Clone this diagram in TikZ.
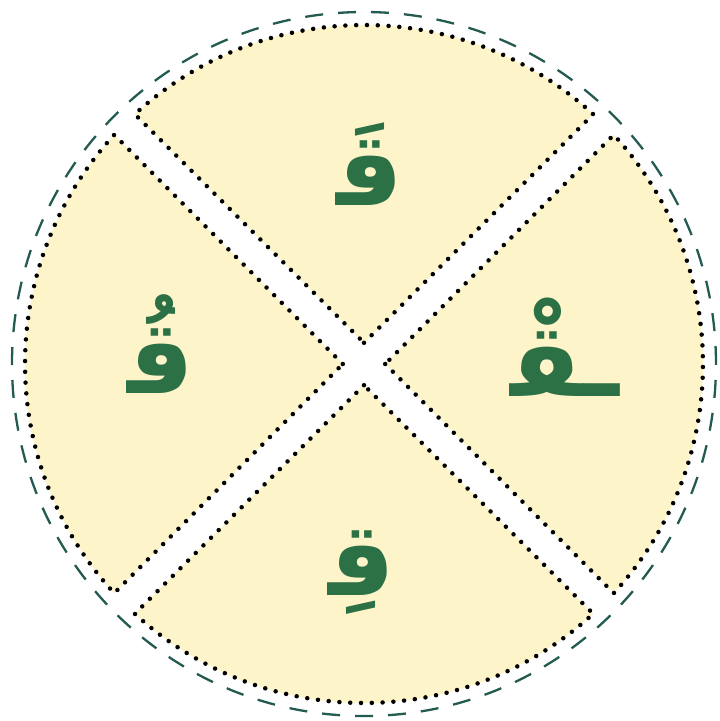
\documentclass[tikz,border=0pt]{standalone}
\usepackage{fontspec}
\newfontfamily\arabicfont[Script=Arabic]{DejaVu Sans}
\TeXXeTstate=1

\definecolor{sectfill}{HTML}{FEF4C9}
\definecolor{letter}{HTML}{2C7045}
\definecolor{rim}{HTML}{245B50}

\def\rin{339}
\def\rout{352}
\def\tip{21.2}

\begin{document}
\begin{tikzpicture}[x=1pt, y=1pt,
  sector/.style={fill=sectfill, draw=black, line width=4.5pt, line cap=round, dash pattern=on 0pt off 10.8pt},
  harf/.style={text=letter, font=\arabicfont\bfseries\fontsize{102}{110}\selectfont, inner sep=0pt}]

\useasboundingbox (-364,-357) rectangle (356,364);

% ---- outer dashed rim ----
\draw[rim, line width=2.3pt, dash pattern=on 18pt off 15pt] (0,0) circle[radius=\rout];

% ---- four sectors, gaps along the diagonals ----
\filldraw[sector] (90:\tip) -- (47.46:\rin) arc[start angle=47.46, end angle=132.54, radius=\rin] -- cycle;
\filldraw[sector] (0:\tip) -- (-42.54:\rin) arc[start angle=-42.54, end angle=42.54, radius=\rin] -- cycle;
\filldraw[sector] (270:\tip) -- (227.46:\rin) arc[start angle=227.46, end angle=312.54, radius=\rin] -- cycle;
\filldraw[sector] (180:\tip) -- (137.46:\rin) arc[start angle=137.46, end angle=222.54, radius=\rin] -- cycle;

% ---- letters ----
\node[harf] (fatha) at (6,200) {\beginR قَ^^^^200d\endR};
\node[harf] (sukun) at (201,17) {\beginR ـقْ^^^^200d\endR};
\node[harf] (kasra) at (-2,-209) {\beginR قِ^^^^200d\endR};
\node[harf] (damma) at (-203,20) {\beginR قُ^^^^200d\endR};

\end{tikzpicture}
\end{document}
